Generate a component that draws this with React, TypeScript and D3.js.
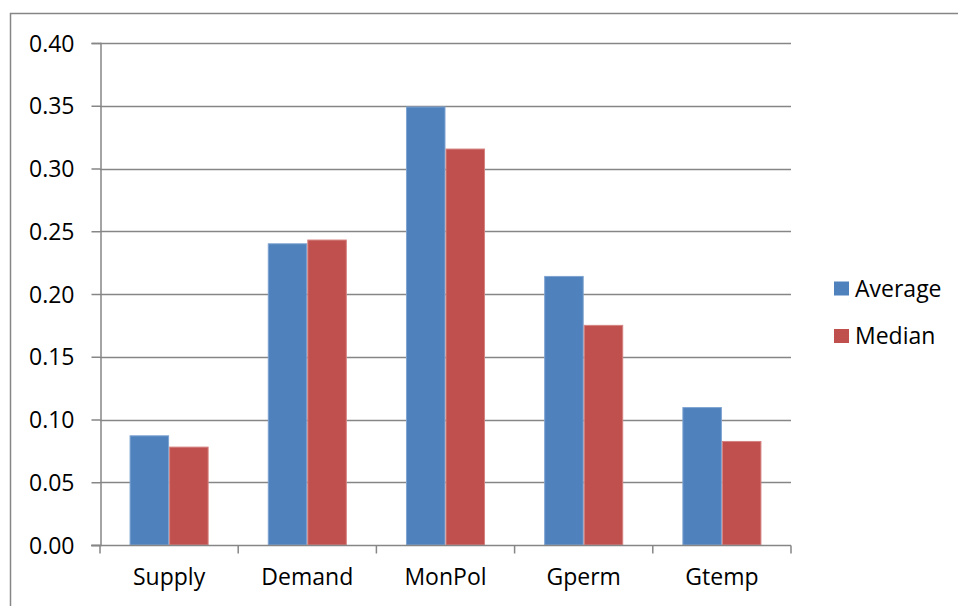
import React, { useEffect, useRef } from 'react';
import * as d3 from 'd3';

const categories = ['Supply', 'Demand', 'MonPol', 'Gperm', 'Gtemp'];
const seriesNames = ['Average', 'Median'];
const averageValues = [0.087, 0.24, 0.349, 0.214, 0.1095];
const medianValues = [0.078, 0.243, 0.3155, 0.175, 0.0825];
const yTicks = [0, 0.05, 0.1, 0.15, 0.2, 0.25, 0.3, 0.35, 0.4];
const colors = ['#4F81BD', '#C0504D'];
const edgeColors = ['#7EA3D1', '#D48381'];

const width = 958;
const height = 606;
const font = '"Open Sans", sans-serif';

const App = () => {
  const container = useRef(null);

  useEffect(() => {
    const svg = d3.select(container.current);
    svg.selectAll('*').remove();

    const plot = { l: 100, r: 791, t: 43, b: 545 };

    const xScale = d3.scaleBand().domain(categories).range([plot.l, plot.r]);
    const step = xScale.bandwidth();
    const xInner = d3
      .scaleBand()
      .domain(seriesNames)
      .range([step * 0.214, step * 0.786]);

    const yScale = d3.scaleLinear().domain([0, 0.4]).range([plot.b, plot.t]);

    // outer frame
    svg
      .append('rect')
      .attr('x', 10.5)
      .attr('y', 13.5)
      .attr('width', width)
      .attr('height', height)
      .attr('fill', 'none')
      .attr('stroke', '#868686')
      .attr('stroke-width', 1.5);

    // gridlines
    svg
      .append('g')
      .selectAll('line')
      .data(yTicks.filter(d => d > 0))
      .join('line')
      .attr('x1', plot.l)
      .attr('x2', plot.r)
      .attr('y1', d => Math.round(yScale(d)) + 0.5)
      .attr('y2', d => Math.round(yScale(d)) + 0.5)
      .attr('stroke', '#868686')
      .attr('stroke-width', 1.5);

    // bars
    const rows = categories.map((c, i) => ({
      category: c,
      values: [averageValues[i], medianValues[i]]
    }));

    svg
      .append('g')
      .selectAll('g')
      .data(rows)
      .join('g')
      .attr('transform', d => `translate(${xScale(d.category)},0)`)
      .selectAll('rect')
      .data(d => d.values.map((v, j) => ({ v, j })))
      .join('rect')
      .attr('x', d => xInner(seriesNames[d.j]) + 0.5)
      .attr('y', d => yScale(d.v))
      .attr('width', xInner.bandwidth() - 1)
      .attr('height', d => plot.b - yScale(d.v))
      .attr('fill', d => colors[d.j])
      .attr('stroke', d => edgeColors[d.j])
      .attr('stroke-width', 1);

    // y axis
    const yAxis = d3
      .axisLeft(yScale)
      .tickValues(yTicks)
      .tickSize(9)
      .tickPadding(17)
      .tickFormat(d3.format('.2f'));
    const yg = svg
      .append('g')
      .attr('transform', `translate(${plot.l + 0.5},0)`)
      .call(yAxis);
    yg.select('.domain').attr('stroke', '#868686').attr('stroke-width', 1.5);
    yg.selectAll('.tick line').attr('stroke', '#868686').attr('stroke-width', 1.5);
    yg.selectAll('.tick text')
      .attr('font-family', font)
      .attr('font-size', 23)
      .attr('fill', '#000')
      .attr('dy', '0.35em');

    // x axis
    const xg = svg.append('g').attr('transform', `translate(0,${plot.b + 0.5})`);
    xg.append('line')
      .attr('x1', plot.l - 9)
      .attr('x2', plot.r)
      .attr('stroke', '#868686')
      .attr('stroke-width', 1.5);
    const boundaries = categories.map(c => xScale(c)).concat([plot.r]);
    xg.selectAll('.xtick')
      .data(boundaries)
      .join('line')
      .attr('class', 'xtick')
      .attr('x1', d => d)
      .attr('x2', d => d)
      .attr('y1', 0)
      .attr('y2', 8)
      .attr('stroke', '#868686')
      .attr('stroke-width', 1.5);
    xg.selectAll('.xlabel')
      .data(categories)
      .join('text')
      .attr('class', 'xlabel')
      .attr('x', d => xScale(d) + step / 2)
      .attr('y', 39)
      .attr('text-anchor', 'middle')
      .attr('font-family', font)
      .attr('font-size', 23)
      .attr('fill', '#000')
      .text(d => d);

    // legend
    const legend = svg
      .append('g')
      .selectAll('g')
      .data(seriesNames)
      .join('g')
      .attr('transform', (d, i) => `translate(834,${288.5 + i * 47.5})`);
    legend
      .append('rect')
      .attr('x', 0)
      .attr('y', -7)
      .attr('width', 15)
      .attr('height', 14)
      .attr('fill', (d, i) => colors[i]);
    legend
      .append('text')
      .attr('x', 21)
      .attr('y', 0)
      .attr('dy', '0.35em')
      .attr('font-family', font)
      .attr('font-size', 23)
      .attr('fill', '#000')
      .text(d => d);
  }, []);

  return (
    <svg
      ref={container}
      width={width}
      height={height}
      style={{ position: 'absolute', left: 0, top: 0, background: '#fff' }}
    />
  );
};

export default App;
